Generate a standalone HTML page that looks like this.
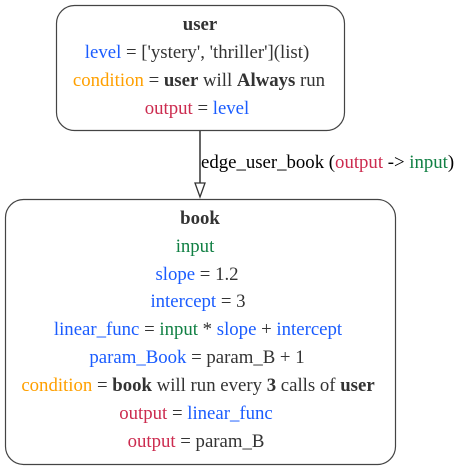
<!DOCTYPE html>
<html><head><style>body{margin:0;background:#fff}svg{display:block}svg text{font-family:"Liberation Serif",serif;font-size:18.8px}</style></head>
<body>
<svg width="464" height="469" xmlns="http://www.w3.org/2000/svg" fill="#333">
<rect x="56.5" y="5.5" width="288" height="125" rx="18" fill="#fff" stroke="#444" stroke-width="1.2"/>
<rect x="5.5" y="199.5" width="390" height="265" rx="18" fill="#fff" stroke="#444" stroke-width="1.2"/>
<line x1="200" y1="131" x2="200" y2="183" stroke="#333" stroke-width="1.5"/>
<polygon points="195,183 205,183 200,197" fill="#fff" stroke="#333" stroke-width="1.3"/>
<g text-anchor="middle">
<text x="200" y="30" font-weight="bold">user</text>
<text x="197" y="58"><tspan fill="#1a5cff">level</tspan> = ['ystery', 'thriller'](list)</text>
<text x="199" y="86"><tspan fill="#ffa000">condition</tspan> = <tspan font-weight="bold">user</tspan> will <tspan font-weight="bold">Always</tspan> run</text>
<text x="197" y="114"><tspan fill="#cc2b4f">output</tspan> = <tspan fill="#1a5cff">level</tspan></text>
<text x="200" y="224" font-weight="bold">book</text>
<text x="195" y="252" fill="#118044">input</text>
<text x="197" y="280"><tspan fill="#1a5cff">slope</tspan> = 1.2</text>
<text x="198" y="307"><tspan fill="#1a5cff">intercept</tspan> = 3</text>
<text x="198" y="335"><tspan fill="#1a5cff">linear_func</tspan> = <tspan fill="#118044">input</tspan> * <tspan fill="#1a5cff">slope</tspan> + <tspan fill="#1a5cff">intercept</tspan></text>
<text x="197" y="363"><tspan fill="#1a5cff">param_Book</tspan> = param_B + 1</text>
<text x="198" y="391"><tspan fill="#ffa000">condition</tspan> = <tspan font-weight="bold">book</tspan> will run every <tspan font-weight="bold">3</tspan> calls of <tspan font-weight="bold">user</tspan></text>
<text x="196" y="419"><tspan fill="#cc2b4f">output</tspan> = <tspan fill="#1a5cff">linear_func</tspan></text>
<text x="196" y="447"><tspan fill="#cc2b4f">output</tspan> = param_B</text>
</g>
<text x="201" y="168" fill="#000">edge_user_book (<tspan fill="#cc2b4f">output</tspan> -&gt; <tspan fill="#118044">input</tspan>)</text>
</svg>
</body></html>
